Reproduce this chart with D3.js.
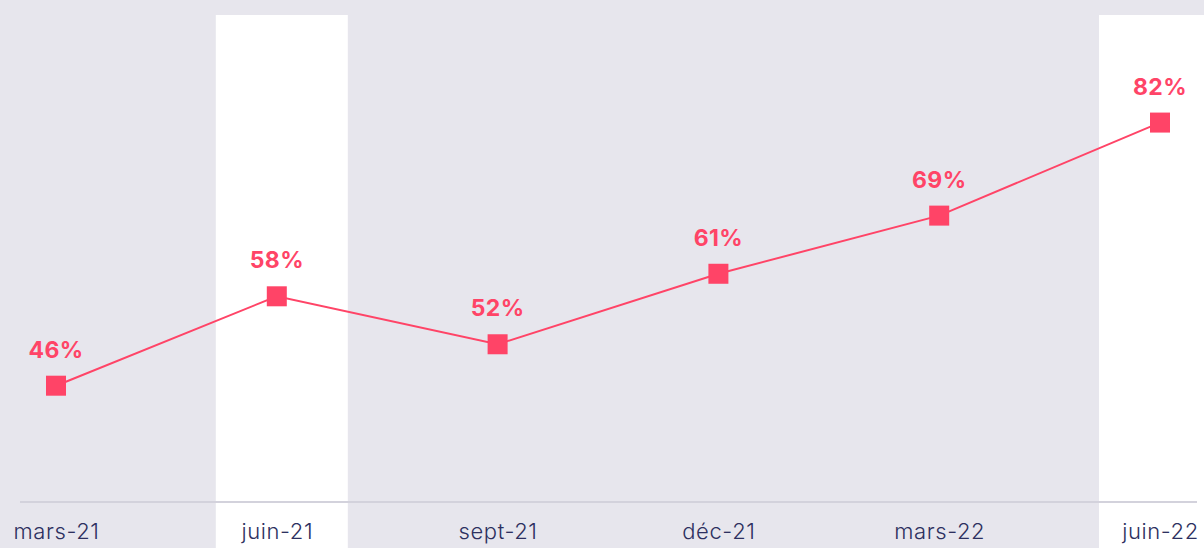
<!DOCTYPE html>
<html>
<meta charset=utf-8>
<head>
  <style>
    body { margin: 0; background: #e7e6ed; }
    svg { display: block; }
  </style>
</head>
<body>
  <svg id="chart" width="1204" height="548"></svg>
  <script src="https://d3js.org/d3.v7.min.js"></script>
  <script>
    var categories = ['mars-21', 'juin-21', 'sept-21', 'déc-21', 'mars-22', 'juin-22']
    var values = [46, 58.3, 51.7, 61.4, 69.4, 82.2]
    var highlighted = ['juin-21', 'juin-22']

    var svg = d3.select('#chart')
    var pink = '#ff4467'

    var x = d3.scalePoint().domain(categories).range([56, 1160])
    var y = d3.scaleLinear().domain([30, 97]).range([502, 15])

    // white columns behind highlighted quarters
    svg.selectAll('rect.band')
      .data(highlighted)
      .enter()
      .append('rect')
      .attr('class', 'band')
      .attr('x', function(d) { return x(d) - 61 })
      .attr('y', y(97))
      .attr('width', 132)
      .attr('height', 548 - y(97))
      .attr('fill', '#ffffff')

    // baseline
    svg.append('line')
      .attr('x1', 20).attr('x2', 1197)
      .attr('y1', y(30)).attr('y2', y(30))
      .attr('stroke', '#d3d2dc')
      .attr('stroke-width', 2)

    var axis = svg.append('g')
      .attr('transform', 'translate(0,' + y(30) + ')')
      .call(d3.axisBottom(x).tickSize(0).tickPadding(21))
    axis.select('.domain').remove()
    axis.selectAll('text')
      .attr('font-family', 'Inter, "Noto Sans", sans-serif')
      .attr('font-size', 22)
      .attr('font-weight', 300)
      .attr('letter-spacing', 0.6)
      .attr('fill', '#2d3060')

    var line = d3.line()
      .x(function(d, i) { return x(categories[i]) })
      .y(function(d) { return y(d) })

    svg.append('path')
      .datum(values)
      .attr('d', line)
      .attr('fill', 'none')
      .attr('stroke', pink)
      .attr('stroke-width', 2)

    svg.selectAll('rect.marker')
      .data(values)
      .enter()
      .append('rect')
      .attr('class', 'marker')
      .attr('x', function(d, i) { return x(categories[i]) - 10 })
      .attr('y', function(d) { return y(d) - 10 })
      .attr('width', 20)
      .attr('height', 20)
      .attr('fill', pink)

    svg.selectAll('text.val')
      .data(values)
      .enter()
      .append('text')
      .attr('class', 'val')
      .attr('x', function(d, i) { return x(categories[i]) })
      .attr('y', function(d) { return y(d) - 28 })
      .attr('text-anchor', 'middle')
      .attr('font-family', 'Inter, "Noto Sans", sans-serif')
      .attr('font-weight', 700)
      .attr('font-size', 23)
      .attr('letter-spacing', 0.4)
      .attr('fill', pink)
      .text(function(d) { return Math.round(d) + '%' })
  </script>
</body>
</html>
